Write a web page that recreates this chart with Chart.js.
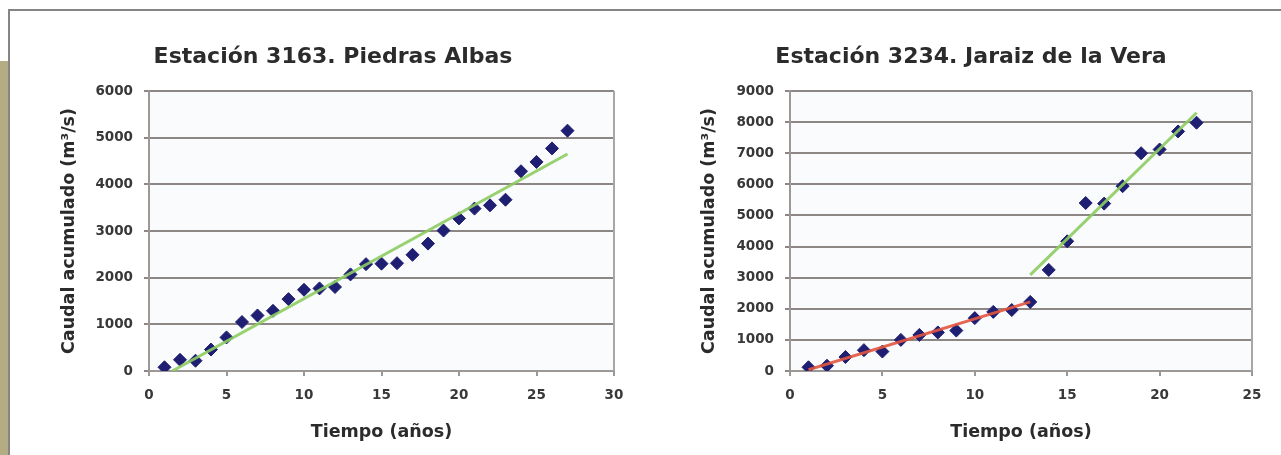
<!DOCTYPE html>
<html>
<head>
<meta charset="utf-8">
<script src="https://cdn.jsdelivr.net/npm/chart.js@4.4.1/dist/chart.umd.min.js"></script>
<style>
html,body{margin:0;padding:0;background:#fff;}
#page{position:relative;width:1281px;height:455px;overflow:hidden;background:#fff;}
#frame{position:absolute;left:8px;top:9px;right:-4px;bottom:-4px;border-top:2px solid #858585;border-left:2px solid #858585;}
#strip{position:absolute;left:0;top:61px;width:8px;bottom:0;background:#b4ac83;}
.wrap{position:absolute;top:0;height:455px;}
#w1{left:42px;width:598px;}
#w2{left:680px;width:601px;}
</style>
</head>
<body>
<div id="page">
  <div id="frame"></div>
  <div id="strip"></div>
  <div class="wrap" id="w1"><canvas id="c1"></canvas></div>
  <div class="wrap" id="w2"><canvas id="c2"></canvas></div>
</div>
<script>
/* ─── DATA ─────────────────────────────────────────── */
// Estación 3163. Piedras Albas
const yearsA=[1,2,3,4,5,6,7,8,9,10,11,12,13,14,15,16,17,18,19,20,21,22,23,24,25,26,27];
const caudalA=[80,240,220,460,720,1050,1190,1290,1540,1740,1770,1800,2070,2290,2300,2310,2490,2730,3010,3270,3480,3550,3670,4280,4480,4770,5150];
const trendAX=[1.5,27];
const trendAY=[0,4650];
const xTicksA=[0,5,10,15,20,25,30];
const yTicksA=[0,1000,2000,3000,4000,5000,6000];

// Estación 3234. Jaraiz de la Vera
const yearsB=[1,2,3,4,5,6,7,8,9,10,11,12,13,14,15,16,17,18,19,20,21,22];
const caudalB=[120,170,450,670,625,1000,1160,1240,1300,1700,1900,1960,2220,3250,4170,5400,5380,5940,7000,7120,7700,7980];
const trendB1X=[1,13];
const trendB1Y=[40,2220];
const trendB2X=[13,22];
const trendB2Y=[3090,8300];
const xTicksB=[0,5,10,15,20,25];
const yTicksB=[0,1000,2000,3000,4000,5000,6000,7000,8000,9000];

/* ─── HELPERS ──────────────────────────────────────── */
const FONT='"DejaVu Sans", Arial, sans-serif';
const pts=(xs,ys)=>xs.map((x,i)=>({x,y:ys[i]}));

const plotFrame={id:'plotFrame',
  beforeDraw(c){const a=c.chartArea,x=c.ctx;x.save();x.fillStyle='#fafbfd';x.fillRect(a.left,a.top,a.width,a.height);x.restore();},
  beforeDatasetsDraw(c){const a=c.chartArea,x=c.ctx;x.save();x.strokeStyle='#aaa6a3';x.lineWidth=2;
    x.beginPath();x.moveTo(a.right,a.top);x.lineTo(a.right,a.bottom);x.stroke();x.restore();}
};

function scatterSet(data){
  return{data,showLine:false,pointStyle:'rectRot',pointRadius:6.5,pointBorderWidth:1,
    backgroundColor:'#1e1e72',borderColor:'#1e1e72',order:2};
}
function trendSet(data,color){
  return{data,showLine:true,pointRadius:0,borderColor:color,borderWidth:3,fill:false,order:1};
}

function makeChart(id,o){
  const tickFont={family:FONT,weight:'bold',size:13.5};
  const titleFont={family:FONT,weight:'bold',size:17.5};
  return new Chart(document.getElementById(id),{
    type:'scatter',
    data:{datasets:o.datasets},
    options:{
      responsive:true,maintainAspectRatio:false,animation:false,
      layout:{padding:{left:10,right:o.padR,top:0,bottom:0}},
      plugins:{
        legend:{display:false},tooltip:{enabled:false},
        title:{display:true,text:o.title,color:'#2b2b2b',
          font:{family:FONT,weight:'bold',size:22},padding:{top:43.8,bottom:20.8}}
      },
      scales:{
        x:{type:'linear',min:0,max:o.xTicks[o.xTicks.length-1],
          afterBuildTicks:s=>{s.ticks=o.xTicks.map(v=>({value:v}));},
          afterFit:s=>{s.height=84;},
          grid:{drawOnChartArea:false,color:'#9b9896',lineWidth:2,tickLength:5},
          border:{color:'#9b9896',width:2},
          ticks:{padding:10.9,color:'#383838',font:tickFont,callback:v=>v},
          title:{display:true,text:'Tiempo (años)',color:'#2b2b2b',font:titleFont,padding:{top:0,bottom:12.5}}},
        y:{type:'linear',min:0,max:o.yTicks[o.yTicks.length-1],
          afterBuildTicks:s=>{s.ticks=o.yTicks.map(v=>({value:v}));},
          afterFit:s=>{s.width=o.yW;},
          grid:{color:'#8c8784',lineWidth:2,tickLength:5},
          border:{color:'#9b9896',width:2},
          ticks:{padding:11,color:'#383838',font:tickFont,callback:v=>v},
          title:{display:true,text:'Caudal acumulado (m³/s)',color:'#2b2b2b',font:titleFont,padding:{top:o.yTitlePad,bottom:0}}}
      }
    },
    plugins:[plotFrame]
  });
}

/* ─── CHARTS ───────────────────────────────────────── */
makeChart('c1',{
  title:'Estación 3163. Piedras Albas',
  xTicks:xTicksA,yTicks:yTicksA,padR:26,yW:97,yTitlePad:6.5,
  datasets:[
    trendSet(pts(trendAX,trendAY),'rgba(140,204,96,0.9)'),
    scatterSet(pts(yearsA,caudalA))
  ]
});
makeChart('c2',{
  title:'Estación 3234. Jaraiz de la Vera',
  xTicks:xTicksB,yTicks:yTicksB,padR:29,yW:100,yTitlePad:8.5,
  datasets:[
    trendSet(pts(trendB1X,trendB1Y),'rgba(226,85,63,0.9)'),
    trendSet(pts(trendB2X,trendB2Y),'rgba(140,204,96,0.9)'),
    scatterSet(pts(yearsB,caudalB))
  ]
});
</script>
</body>
</html>
